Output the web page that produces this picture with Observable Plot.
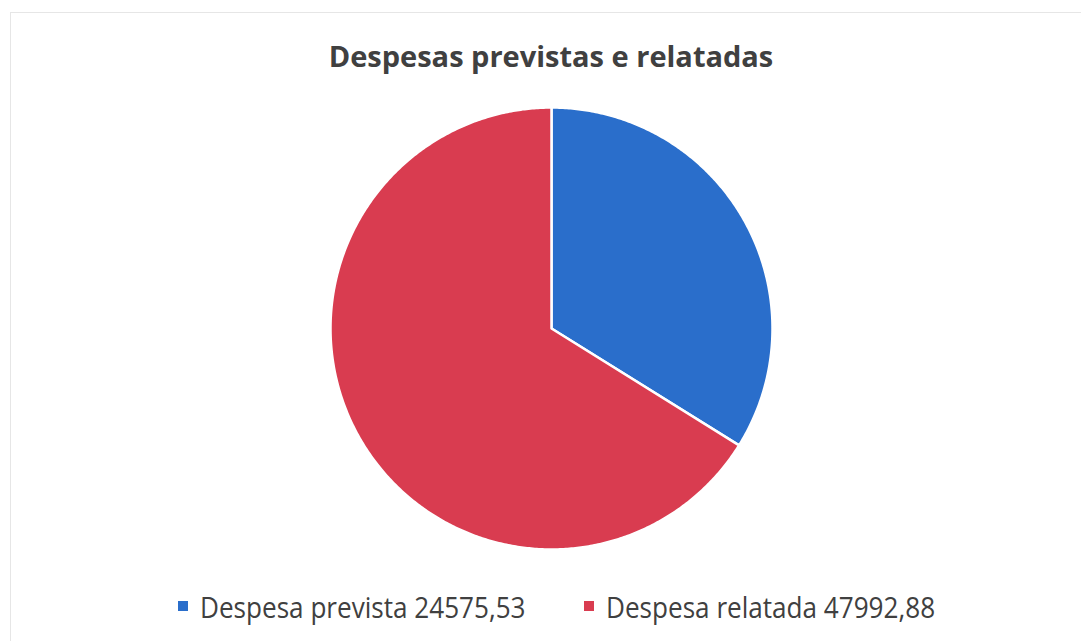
<!DOCTYPE html>
<html>
<head>
<meta charset="utf-8">
<script src="https://cdn.jsdelivr.net/npm/d3@7"></script>
<script src="https://cdn.jsdelivr.net/npm/@observablehq/plot@0.6"></script>
<style>
  html, body { margin: 0; padding: 0; background: #fff; }
  #page { position: relative; width: 1081px; height: 641px; overflow: hidden; background:#fff; }
  #frame { position: absolute; left: 10px; top: 12px; width: 1080px; height: 640px; border-left: 1px solid #e6e6e6; border-top: 1px solid #e6e6e6; }
  #title { position: absolute; left: 0; width: 1102px; top: 36px; text-align: center;
           font-family: "Open Sans", sans-serif; font-weight: 700; font-size: 29px; color: #404040; }
  #chart { position: absolute; left: 0; top: 98px; }
  .leg { position: absolute; top: 587px; font-family: "Open Sans", sans-serif; font-size: 29px; color: #404040; white-space: nowrap;
         transform: scaleX(0.9); transform-origin: 0 0; }
  .sw { position: absolute; width: 10px; height: 10px; top: 601px; }
</style>
</head>
<body>
<div id="page">
  <div id="frame"></div>
  <div id="title">Despesas previstas e relatadas</div>
  <div id="chart"></div>
</div>
<script>
const categories = ["Despesa prevista", "Despesa relatada"];
const values = [24575.53, 47992.88];
const labels = ["24575,53", "47992,88"];
const colors = ["#2a6ecb", "#d93c50"];

// slice outlines built from the data angles (geometry only)
const arcs = d3.pie().sort(null)(values);
const pts = [];
arcs.forEach((a, i) => {
  pts.push({cat: categories[i], x: 0, y: 0});
  const n = Math.max(2, Math.ceil((a.endAngle - a.startAngle) / (Math.PI / 360)));
  for (let k = 0; k <= n; k++) {
    const t = a.startAngle + (a.endAngle - a.startAngle) * k / n;
    pts.push({cat: categories[i], x: Math.sin(t), y: Math.cos(t)});
  }
});

const chart = Plot.plot({
  width: 1081,
  height: 460,
  margin: 0,
  x: {domain: [-1, 1], range: [330, 772], axis: null},
  y: {domain: [-1, 1], range: [451, 9], axis: null},
  color: {domain: categories, range: colors},
  marks: [
    Plot.line(pts, {x: "x", y: "y", z: "cat", fill: "cat", stroke: "white", strokeWidth: 2.5, curve: "linear-closed", strokeLinejoin: "round"})
  ]
});
document.getElementById("chart").appendChild(chart);

// legend
const page = document.getElementById("page");
const legX = [[178, 200], [584, 606]];
categories.forEach((c, i) => {
  const sw = document.createElement("div");
  sw.className = "sw";
  sw.style.left = legX[i][0] + "px";
  sw.style.background = colors[i];
  page.appendChild(sw);
  const t = document.createElement("div");
  t.className = "leg";
  t.style.left = legX[i][1] + "px";
  t.textContent = c + " " + labels[i];
  page.appendChild(t);
});
</script>
</body>
</html>
